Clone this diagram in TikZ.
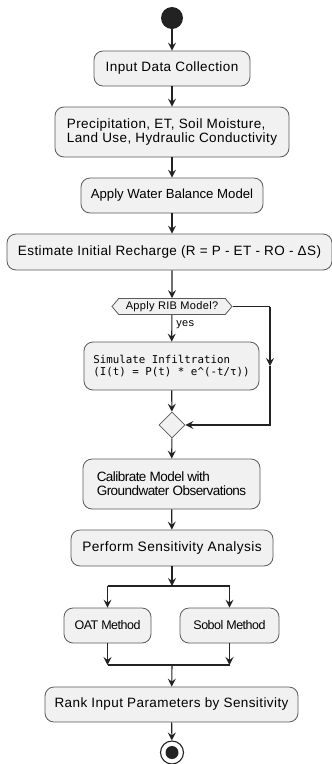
\documentclass[tikz,border=0pt]{standalone}
\usepackage{fontspec}
\setmainfont{Liberation Sans}
\newfontfamily\actfont{Liberation Sans}[LetterSpace=3]
\newfontfamily\condfont{Liberation Sans}[LetterSpace=-4]
\newfontfamily\monofont{DejaVu Sans Mono}
\usetikzlibrary{arrows.meta,shapes.geometric,shapes.symbols}
\definecolor{boxfill}{HTML}{F1F1F1}
\definecolor{boxline}{HTML}{5A5A5A}
\definecolor{wire}{HTML}{222222}
\tikzset{
	act/.style={draw=boxline,fill=boxfill,rounded corners=9pt,line width=0.8pt,
		inner sep=0pt,align=left,font=\actfont\fontsize{13.5}{14}\selectfont},
	tight/.style={font=\condfont\fontsize{#1}{14}\selectfont},
	line/.style={draw=wire,line width=1.1pt},
	flow/.style={line,-{Stealth[length=8pt,width=8pt,inset=3pt]}}
}
\begin{document}
\begin{tikzpicture}[x=1pt,y=-1pt]
		\useasboundingbox (0,0) rectangle (332,764);
		% start and activities
		\node[circle,fill=wire,minimum size=22pt,inner sep=0pt] (start) at (172,18) {};
		\node[act,minimum width=156pt,minimum height=35pt] (collect) at (172,68.5) {Input Data Collection};
		\node[act,minimum width=234pt,minimum height=50pt] (params) at (172,132) {Precipitation, ET, Soil Moisture,\\Land Use, Hydraulic Conductivity};
		\node[act,minimum width=182pt,minimum height=35pt,font=\fontsize{13.2}{14}\selectfont] (balance) at (172,195.5) {Apply Water Balance Model};
		\node[act,minimum width=325pt,minimum height=36pt] (recharge) at (169.5,252) {Estimate Initial Recharge (R = P - ET - RO - ΔS)};
		% decision
		\node[signal,signal to=west and east,signal pointer angle=100,draw=boxline,fill=boxfill,line width=0.8pt,
			minimum width=120pt,minimum height=16pt,inner sep=1pt,font=\actfont\fontsize{11}{12}\selectfont] (rib) at (172,306.5) {Apply RIB Model?};
		\node[act,minimum width=175pt,minimum height=48pt,font=\monofont\fontsize{10.8}{12}\selectfont] (infil) at (171.5,366) {Simulate Infiltration\\(I(t) = P(t) * e\^{}(-t/τ))};
		\node[diamond,draw=boxline,fill=boxfill,line width=0.8pt,minimum size=26pt,inner sep=0pt] (merge) at (172,425) {};
		\coordinate (skip) at (270,306.5);
		% calibration and sensitivity
		\node[act,tight=13.5,minimum width=177pt,minimum height=50pt] (calib) at (171.5,484) {Calibrate Model with\\Groundwater Observations};
		\node[act,minimum width=202pt,minimum height=36pt,font=\actfont\fontsize{13.7}{14}\selectfont] (sens) at (172,548) {Perform Sensitivity Analysis};
		\coordinate (fork) at (172,586);
		\node[act,tight=12.5,minimum width=87pt,minimum height=35pt] (oat) at (107.5,625.5) {OAT Method};
		\node[act,tight=12.5,minimum width=99pt,minimum height=35pt] (sobol) at (229.5,625.5) {Sobol Method};
		\coordinate (join) at (172,665);
		\node[act,minimum width=253pt,minimum height=35pt] (rank) at (171.5,704.5) {Rank Input Parameters by Sensitivity};
		\node[circle,draw=wire,fill=white,line width=1.1pt,minimum size=23pt,inner sep=0pt] (stop) at (172,752.5) {};
		\fill[wire] (stop.center) circle (6.5pt);
		% connectors
		\draw[flow] (start) -- (collect);
		\draw[flow] (collect) -- (params);
		\draw[flow] (params) -- (balance);
		\draw[flow] (balance.south) -- (balance.south |- recharge.north);
		\draw[flow] (recharge.south -| rib.north) -- (rib);
		\draw[flow] (rib) -- node[right,pos=0.38,inner sep=4pt,font=\actfont\fontsize{11}{12}\selectfont] {yes} (infil);
		\draw[flow] (infil) -- (merge);
		\draw[line] (rib.east) -- (skip);
		\draw[flow] (skip) -- (skip |- 0,366);
		\draw[flow] (skip |- 0,366) |- (merge.east);
		\draw[flow] (merge) -- (calib);
		\draw[flow] (calib) -- (sens);
		\draw[flow] (sens) -- (fork);
		\draw[line] (oat |- fork) -- (sobol |- fork);
		\draw[flow] (oat |- fork) -- (oat);
		\draw[flow] (sobol |- fork) -- (sobol);
		\draw[flow] (oat) -- (oat |- join);
		\draw[flow] (sobol) -- (sobol |- join);
		\draw[line] (oat |- join) -- (sobol |- join);
		\draw[flow] (join) -- (rank);
		\draw[flow] (rank) -- (stop);
\end{tikzpicture}
\end{document}
